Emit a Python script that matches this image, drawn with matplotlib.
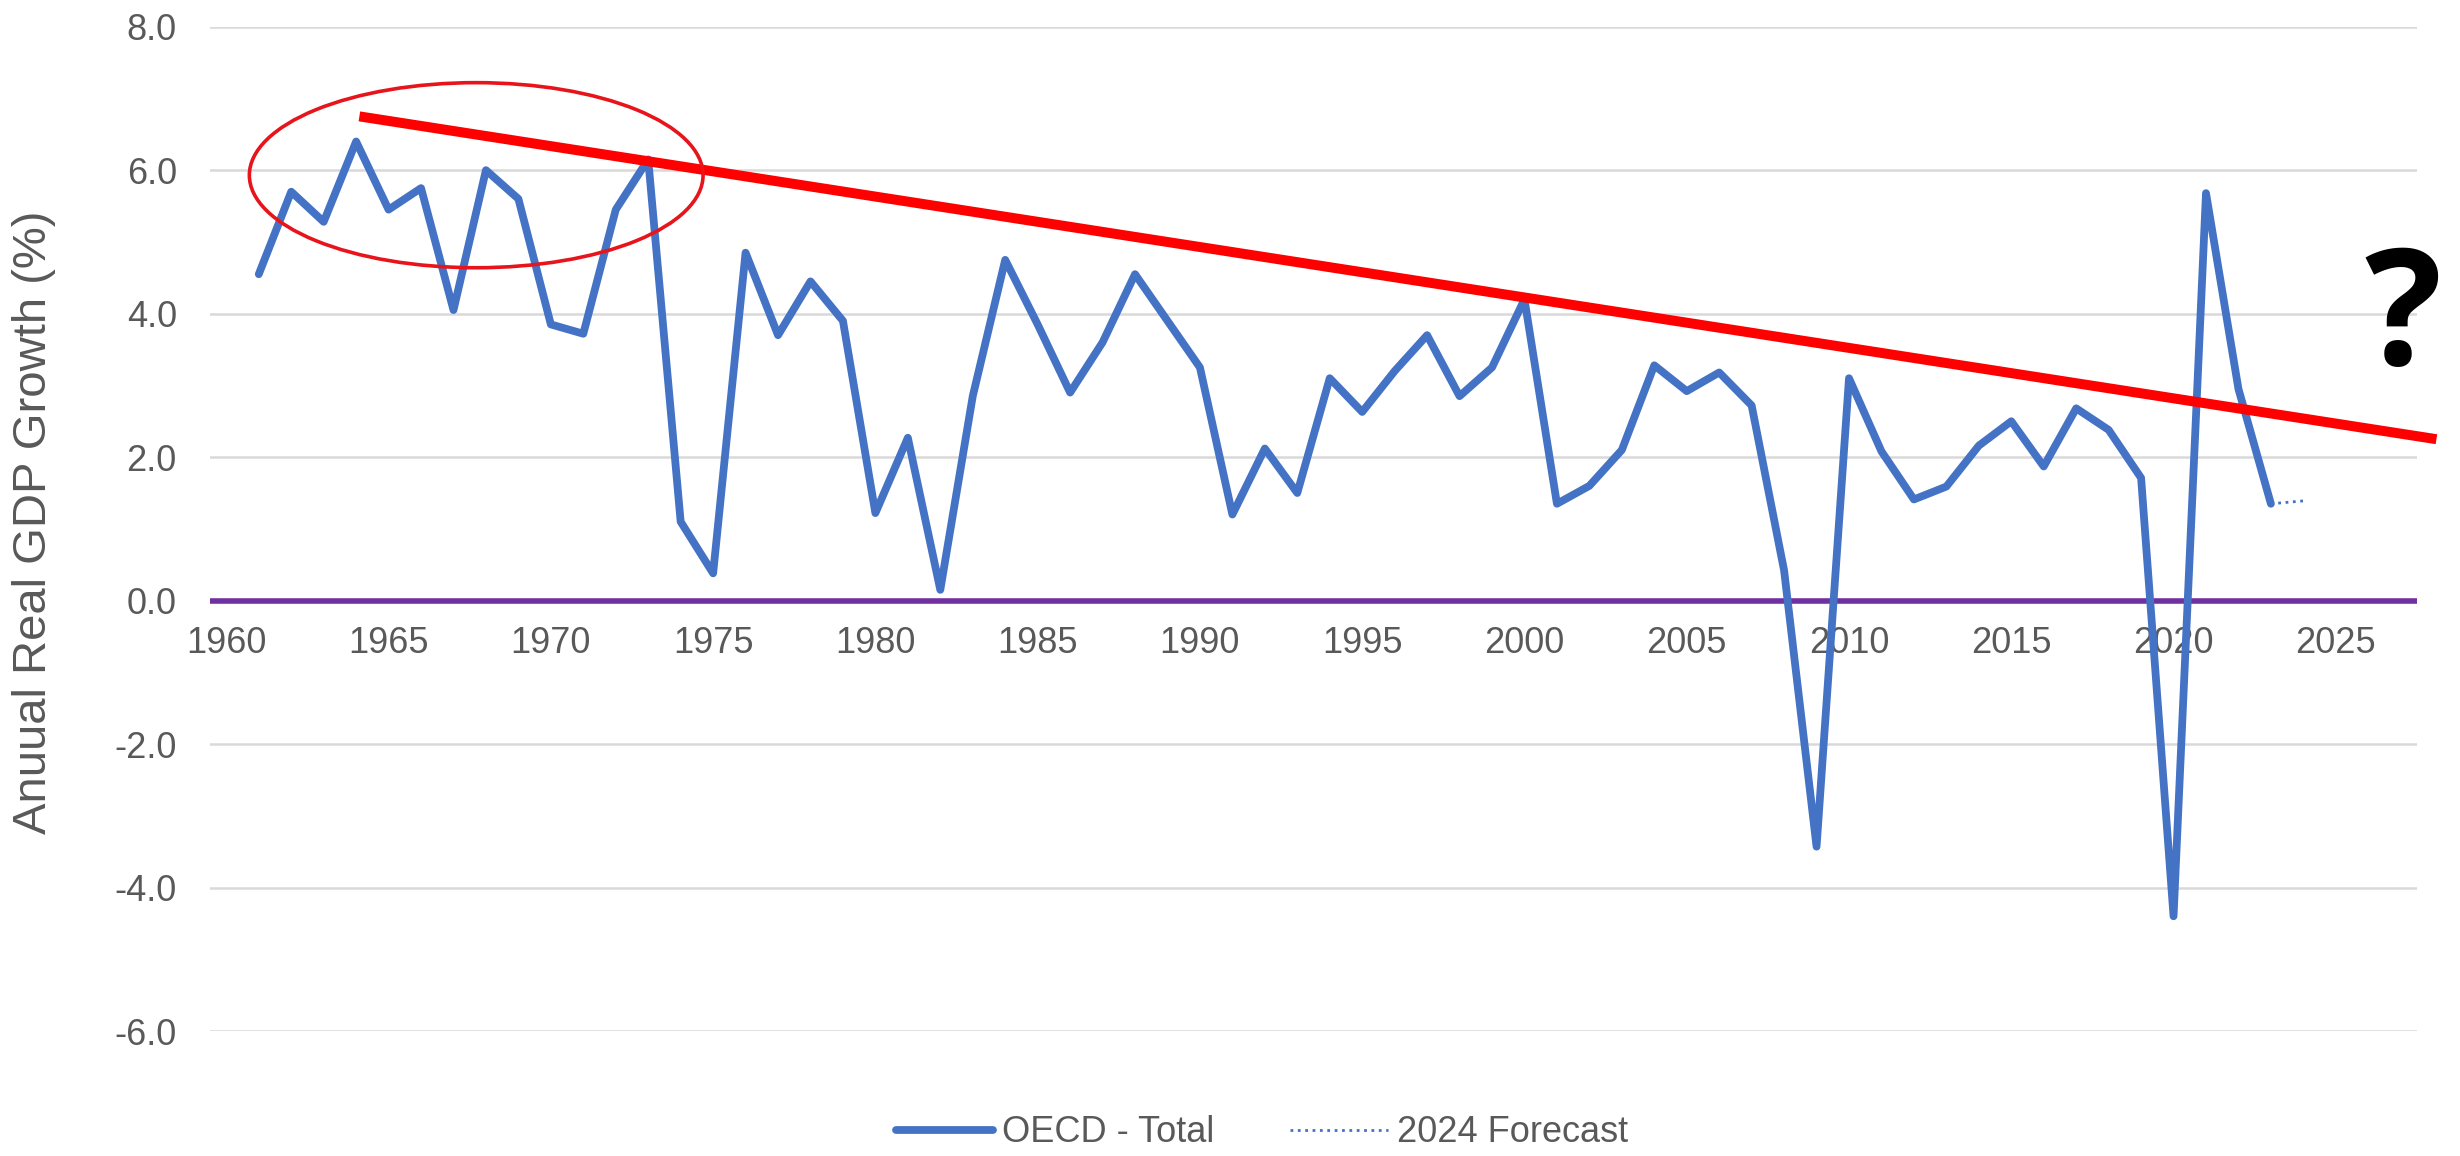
import matplotlib.pyplot as plt
from matplotlib.patches import Ellipse
import numpy as np

plt.rcParams['font.family'] = ['Liberation Sans', 'DejaVu Sans']

# OECD total, annual real GDP growth (%)
years = np.arange(1961, 2024)
growth = [4.55, 5.7, 5.28, 6.4, 5.45, 5.75, 4.05, 6.0, 5.6, 3.85,
          3.72, 5.45, 6.15, 1.1, 0.38, 4.85, 3.7, 4.45, 3.9, 1.22,
          2.27, 0.15, 2.85, 4.75, 3.85, 2.9, 3.6, 4.55, 3.9, 3.25,
          1.2, 2.12, 1.5, 3.1, 2.63, 3.2, 3.7, 2.85, 3.25, 4.2,
          1.35, 1.6, 2.1, 3.28, 2.92, 3.18, 2.72, 0.42, -3.43, 3.1,
          2.08, 1.41, 1.59, 2.16, 2.5, 1.87, 2.68, 2.38, 1.71, -4.4,
          5.68, 2.95, 1.35]

forecast_years = [2023, 2024]
forecast = [1.35, 1.39]

# hand drawn trend line and circle
trend_years = [1964.1, 2028.1]
trend_vals = [6.75, 2.25]
circle_center = (1967.7, 5.93)
circle_size = (13.98, 2.58)

yticks = np.arange(-6, 8.1, 2)
xticks = np.arange(1960, 2026, 5)

grey = '#595959'
blue = '#4472C4'

fig = plt.figure(figsize=(12.3, 5.78), dpi=200)
ax = fig.add_axes([0.0854, 0.1081, 0.8971, 0.8688])

ax.plot(years, growth, color=blue, lw=2.8, solid_joinstyle='round',
        solid_capstyle='round', label='OECD - Total', zorder=3)
ax.plot(forecast_years, forecast, color=blue, lw=1.0, ls=':',
        label='2024 Forecast', zorder=3)

ax.axhline(0, color='#7030A0', lw=2.0, zorder=2)

ax.plot(trend_years, trend_vals, color='#FF0000', lw=3.6,
        solid_capstyle='butt', clip_on=False, zorder=4)
ax.add_patch(Ellipse(circle_center, circle_size[0], circle_size[1],
                     fill=False, ec='#E8141B', lw=1.3, zorder=4))

ax.set_xlim(1959.5, 2027.5)
ax.set_ylim(-6, 8)
ax.set_yticks(yticks)
ax.set_yticklabels(['%.1f' % v for v in yticks])
ax.set_xticks(xticks)
ax.set_xticklabels([str(x) for x in xticks])

ax.spines['bottom'].set_position(('data', 0))
for s in ['top', 'right', 'left', 'bottom']:
    ax.spines[s].set_visible(False)

ax.yaxis.grid(True, color='#D9D9D9', lw=0.9)
ax.set_axisbelow(True)
ax.tick_params(axis='y', length=0, pad=12, labelsize=13, labelcolor=grey)
ax.tick_params(axis='x', length=0, pad=9, labelsize=13, labelcolor=grey)

fig.text(0.0138, 0.548, 'Anuual Real GDP Growth (%)', rotation=90,
         ha='center', va='center', fontsize=17, color=grey)

fig.text(0.977, 0.684, '?', ha='center', va='baseline', fontsize=58,
         fontweight='bold', family='Open Sans', color='black')

fig.legend(loc='center', bbox_to_anchor=(0.513, 0.02), ncol=2,
           frameon=False, fontsize=13, handlelength=2.7,
           handletextpad=0.25, columnspacing=2.1, labelcolor=grey)

fig.savefig('out.png', dpi=200)
